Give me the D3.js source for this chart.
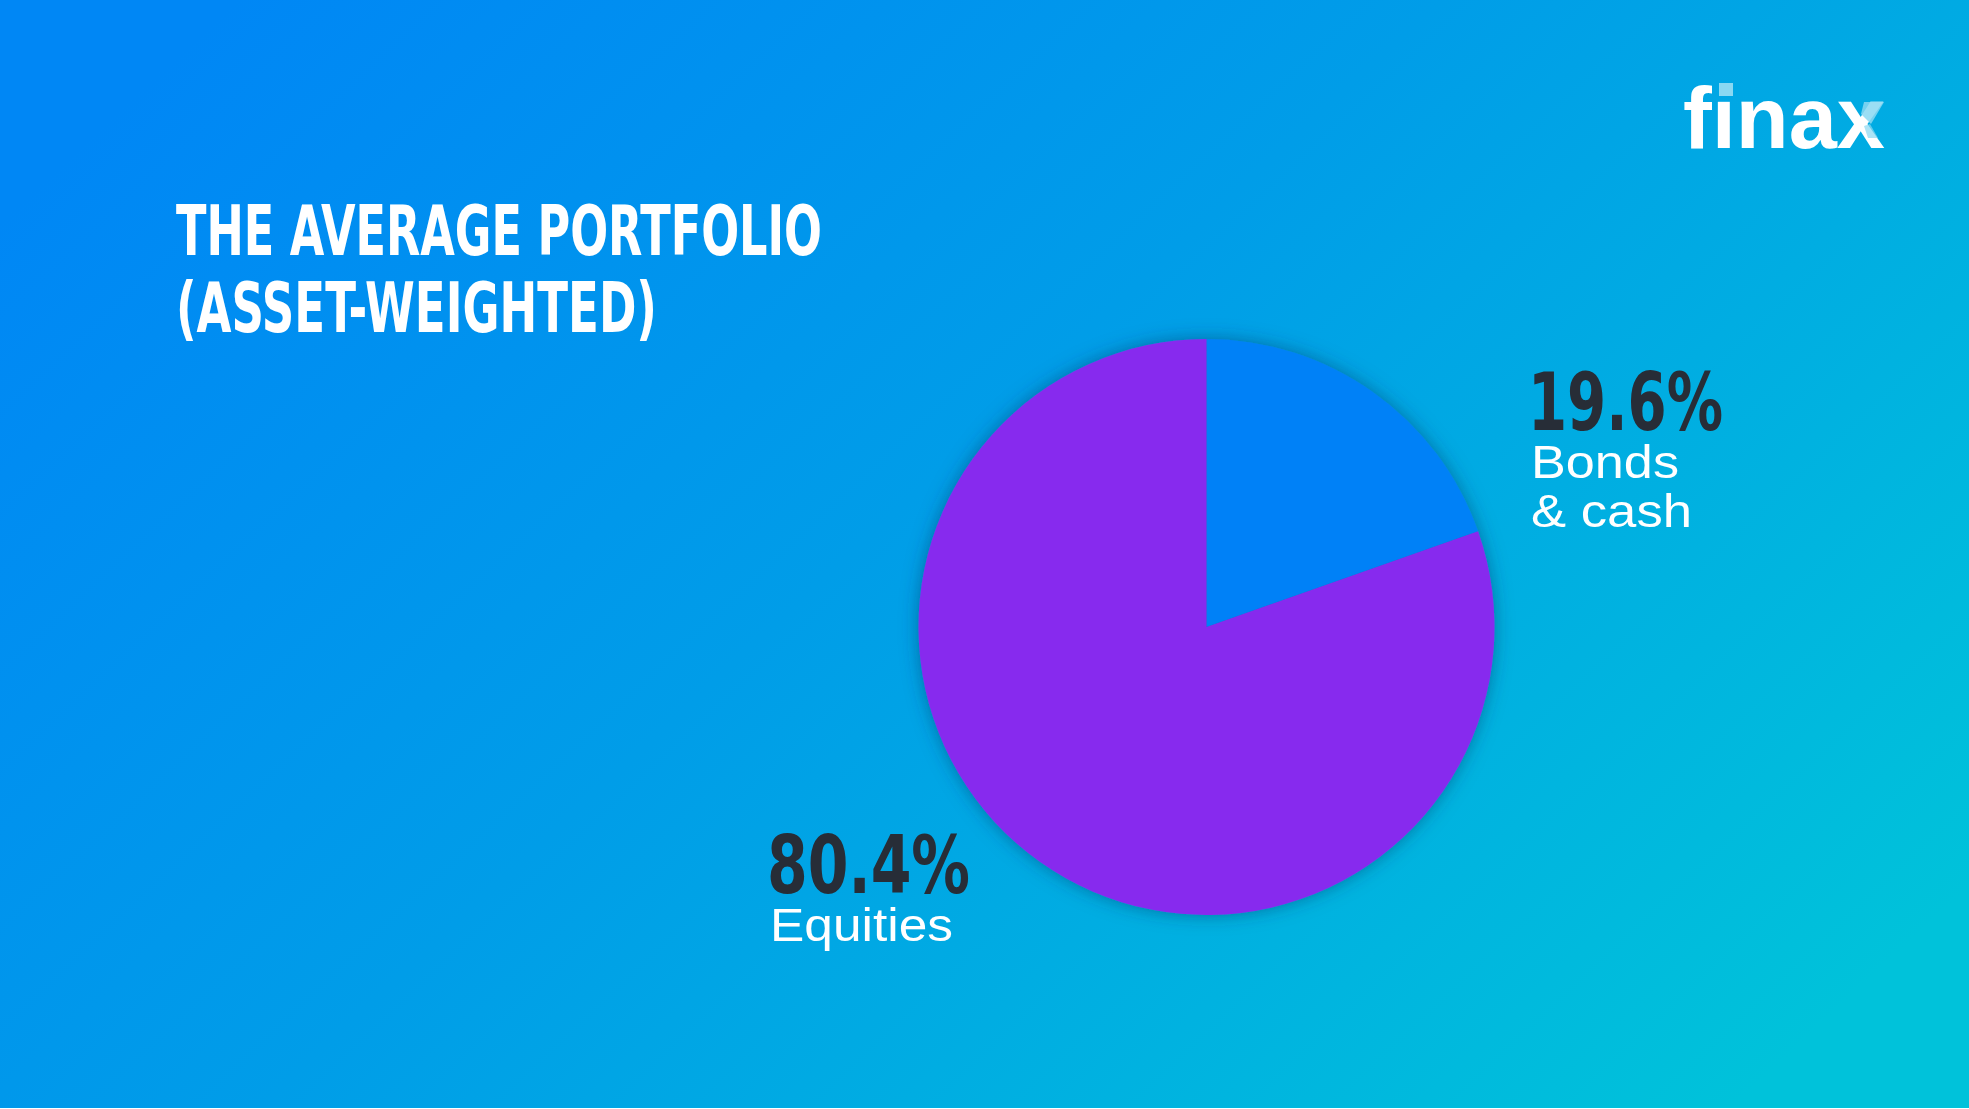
<!DOCTYPE html>
<html>
<head>
<meta charset="utf-8">
<script src="https://cdn.jsdelivr.net/npm/d3@7"></script>
<style>
  html, body { margin: 0; padding: 0; background: #ffffff; }
  svg { display: block; }
</style>
</head>
<body>
<script>
// ---- Data ----
const categories = ["Bonds & cash", "Equities"];
const shares = [19.6, 80.4];
const valueLabels = ["19.6%", "80.4%"];
const titleLines = ["THE AVERAGE PORTFOLIO", "(ASSET-WEIGHTED)"];
const sliceColors = ["#0081f7", "#872cee"];

const W = 1969, H = 1109;
const svg = d3.select("body").append("svg").attr("width", W).attr("height", H);
const defs = svg.append("defs");

const bg = defs.append("linearGradient").attr("id", "bg")
  .attr("x1", "0%").attr("y1", "20%").attr("x2", "100%").attr("y2", "80%");
bg.append("stop").attr("offset", "0%").attr("stop-color", "#0087f5");
bg.append("stop").attr("offset", "45%").attr("stop-color", "#009de8");
bg.append("stop").attr("offset", "100%").attr("stop-color", "#00c2da");

const sh = defs.append("filter").attr("id", "shadow")
  .attr("x", "-20%").attr("y", "-20%").attr("width", "140%").attr("height", "140%");
sh.append("feDropShadow").attr("dx", 0).attr("dy", 0).attr("stdDeviation", 9)
  .attr("flood-color", "#00355f").attr("flood-opacity", 0.5);

svg.append("rect").attr("x", 0).attr("y", 0).attr("width", W).attr("height", 1108)
  .attr("fill", "url(#bg)");

// ---- Title ----
const condensed = "'Liberation Sans Narrow','DejaVu Sans Condensed','Roboto',sans-serif";
const titleG = svg.append("g");
const titleX = 176, titleY = [255, 332], titleLen = [646, 481];
titleLines.forEach((t, i) => {
  titleG.append("text").attr("x", titleX).attr("y", titleY[i])
    .attr("font-family", condensed).attr("font-weight", 700).attr("font-size", 69)
    .attr("textLength", titleLen[i]).attr("lengthAdjust", "spacingAndGlyphs")
    .attr("fill", "#ffffff").text(t);
});

// ---- Logo ----
const logo = svg.append("g");
logo.append("text").attr("x", 1683).attr("y", 148)
  .attr("font-family", "'Liberation Sans',Arial,sans-serif").attr("font-weight", 700)
  .attr("font-size", 88).attr("textLength", 202).attr("lengthAdjust", "spacingAndGlyphs")
  .attr("fill", "#ffffff").text("f\u0131nax");
logo.append("rect").attr("x", 1719).attr("y", 83).attr("width", 14).attr("height", 13)
  .attr("fill", "#8ad8f2");
logo.append("polygon")
  .attr("points", "1864,102 1884,102 1871,124 1861,114")
  .attr("fill", "#8ad8f2").attr("opacity", 0.85);
logo.append("polygon")
  .attr("points", "1864,126 1870,124 1878,138 1868,138")
  .attr("fill", "#8ad8f2").attr("opacity", 0.7);

// ---- Pie ----
const cx = 1206.5, cy = 627, R = 288;
const pie = d3.pie().sort(null).value(d => d)
  .startAngle(0).endAngle(2 * Math.PI);
const arc = d3.arc().innerRadius(0).outerRadius(R);
const pg = svg.append("g").attr("transform", `translate(${cx},${cy})`);
pg.append("g").attr("filter", "url(#shadow)")
  .selectAll("path").data(pie(shares)).join("path")
  .attr("d", arc).attr("fill", (d, i) => sliceColors[i]);

// ---- Labels ----
const labelPos = [
  { x: 1528, y: 430, len: 195, lines: ["Bonds", "& cash"], lens: [148, 161], ly: [478, 527] },
  { x: 767, y: 893, len: 203, lines: ["Equities"], lens: [183], ly: [941] }
];
const lg = svg.append("g");
categories.forEach((c, i) => {
  const p = labelPos[i];
  lg.append("text").attr("x", p.x).attr("y", p.y)
    .attr("font-family", condensed).attr("font-weight", 700).attr("font-size", 80)
    .attr("textLength", p.len).attr("lengthAdjust", "spacingAndGlyphs")
    .attr("fill", "#272d37").text(valueLabels[i]);
  p.lines.forEach((ln, j) => {
    lg.append("text").attr("x", p.x + 3).attr("y", p.ly[j])
      .attr("font-family", "'Liberation Sans',Arial,sans-serif")
      .attr("font-size", 47).attr("textLength", p.lens[j]).attr("lengthAdjust", "spacingAndGlyphs")
      .attr("fill", "#ffffff").text(ln);
  });
});
</script>
</body>
</html>
